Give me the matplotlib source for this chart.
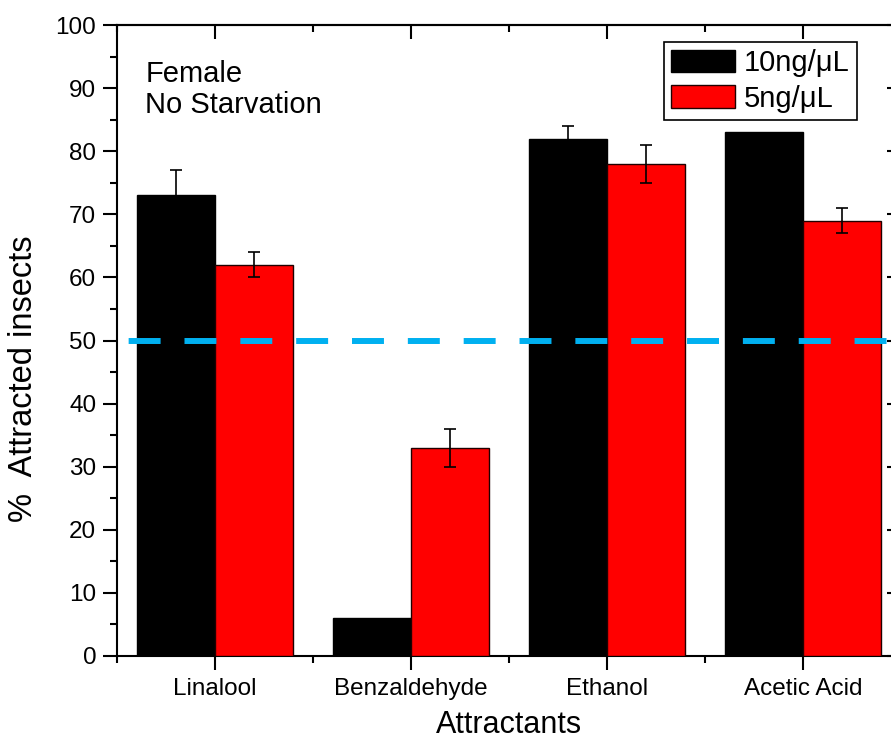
import matplotlib
matplotlib.use("Agg")
import matplotlib.pyplot as plt
import numpy as np
from matplotlib.ticker import MultipleLocator, FixedLocator
from matplotlib.patches import Patch

plt.rcParams["font.family"] = ["Liberation Sans", "DejaVu Sans"]

categories = ["Linalool", "Benzaldehyde", "Ethanol", "Acetic Acid"]
series_labels = ["10ng/\u03bcL", "5ng/\u03bcL"]
high_dose = [73, 6, 82, 83]
high_err = [4, 0, 2, 0]
low_dose = [62, 33, 78, 69]
low_err = [2, 3, 3, 2]
threshold = 50

W, H = 891, 744
fig = plt.figure(figsize=(W / 100, H / 100), dpi=100)
ax = fig.add_axes([117 / W, 88 / H, 784 / W, 631 / H])

x = np.arange(1, len(categories) + 1)
bw = 0.4
ax.bar(x - bw / 2, high_dose, bw, color="black", edgecolor="black", linewidth=1, zorder=2)
ax.bar(x + bw / 2, low_dose, bw, color="#ff0000", edgecolor="#200000", linewidth=1, zorder=3)

# error bars only where there is a spread
err_kw = dict(fmt="none", ecolor="black", elinewidth=1.2, capsize=4.5, capthick=1.2, zorder=4)
for xs, vals, errs in [(x - bw / 2, high_dose, high_err), (x + bw / 2, low_dose, low_err)]:
    keep = np.array(errs) > 0
    ax.errorbar(xs[keep], np.array(vals)[keep], yerr=np.array(errs)[keep], **err_kw)

ax.axhline(threshold, color="#00b0f0", linewidth=4.3, zorder=5,
           linestyle=(7.4, (5.35, 4.0)))

ax.set_xlim(0.5, 4.5)
ax.set_ylim(0, 100)
ax.set_xticks(x)
ax.set_xticklabels(categories)
ax.xaxis.set_minor_locator(FixedLocator(np.arange(0.5, 5, 1.0)))
ax.yaxis.set_major_locator(MultipleLocator(10))
ax.yaxis.set_minor_locator(MultipleLocator(5))

for sp in ax.spines.values():
    sp.set_linewidth(1.5)

ax.tick_params(which="major", direction="out", length=10, width=1.5, labelsize=17.5)
ax.tick_params(which="minor", direction="out", length=5, width=1.5)
ax.tick_params(axis="x", which="major", pad=6)
ax.tick_params(axis="y", which="major", pad=5)

# inward ticks on top and right like the Origin frame
sx = ax.secondary_xaxis("top")
sx.set_xticks(x)
sx.xaxis.set_minor_locator(FixedLocator(np.arange(0.5, 5, 1.0)))
sx.tick_params(which="major", direction="in", length=10, width=1.5, labeltop=False)
sx.tick_params(which="minor", direction="in", length=5, width=1.5)
sx.spines["top"].set_linewidth(1.5)

sy = ax.secondary_yaxis("right")
sy.yaxis.set_major_locator(MultipleLocator(10))
sy.yaxis.set_minor_locator(MultipleLocator(5))
sy.tick_params(which="major", direction="in", length=10, width=1.5, labelright=False)
sy.tick_params(which="minor", direction="in", length=5, width=1.5)
sy.spines["right"].set_linewidth(1.5)

ax.set_xlabel("Attractants", fontsize=22)
ax.xaxis.set_label_coords(0.5, -0.086)
ax.set_ylabel("%  Attracted insects", fontsize=23.5)
ax.yaxis.set_label_coords(-0.100, 0.439)

ax.text(0.036, 0.944, "Female\nNo Starvation", transform=ax.transAxes,
        fontsize=21, va="top", ha="left", linespacing=1.1)

handles = [Patch(facecolor="black", edgecolor="black"),
           Patch(facecolor="#ff0000", edgecolor="#200000")]
leg = ax.legend(handles, series_labels, loc="upper right",
                bbox_to_anchor=(857 / W, 1 - 42 / H), bbox_transform=fig.transFigure,
                borderaxespad=0, fontsize=21, handlelength=2.2, handleheight=0.8,
                handletextpad=0.3, labelspacing=0.25, borderpad=0.25,
                fancybox=False, framealpha=1)
leg.get_frame().set_edgecolor("black")
leg.get_frame().set_linewidth(1.2)

fig.savefig("out.png", dpi=100)
